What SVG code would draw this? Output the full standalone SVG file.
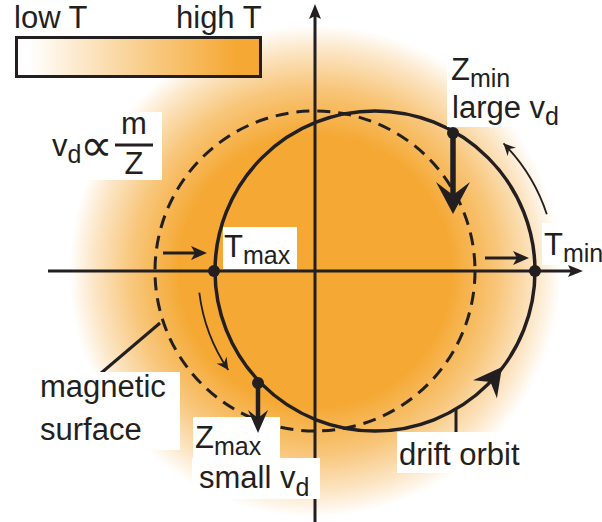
<svg xmlns="http://www.w3.org/2000/svg" width="602" height="522" viewBox="0 0 602 522">
<defs>
<radialGradient id="glow" cx="315" cy="271" r="246" gradientUnits="userSpaceOnUse">
<stop offset="0" stop-color="#F5A833"/>
<stop offset="0.55" stop-color="#F5A833"/>
<stop offset="0.75" stop-color="#F8C77D"/>
<stop offset="0.9" stop-color="#FCE6C6"/>
<stop offset="1" stop-color="#FFFFFF"/>
</radialGradient>
<linearGradient id="bar" x1="0" y1="0" x2="1" y2="0">
<stop offset="0.05" stop-color="#FFFFFF"/>
<stop offset="0.5" stop-color="#F9CF8F"/>
<stop offset="0.9" stop-color="#F5A833"/>
</linearGradient>
<marker id="thin" markerWidth="14" markerHeight="12" refX="12" refY="6" orient="auto" markerUnits="userSpaceOnUse">
<path d="M12,6 L0,0 L4,6 L0,12 Z" fill="#231f20"/>
</marker>
<style>
.t{font-family:"Liberation Sans",Arial,sans-serif;font-size:31px;fill:#231f20}
.s{font-size:25px}
.ln{stroke:#231f20;fill:none}
.bx{fill:#FFFFFF}
.dot{fill:#231f20}
.hd{fill:#231f20}
</style>
</defs>
<rect width="602" height="522" fill="#FFFFFF"/>
<circle cx="315" cy="271" r="246" fill="url(#glow)"/>

<g id="connectors">
<line class="ln" x1="315" y1="522" x2="315" y2="14" stroke-width="3"/>
<path class="hd" d="M315,4 L321,19 L315,16 L309,19 Z"/>
<line class="ln" x1="48" y1="271" x2="572" y2="271" stroke-width="3"/>
<path class="hd" d="M583,271 L568,277 L571,271 L568,265 Z"/>
<circle id="magnetic-surface" class="ln" cx="315" cy="271" r="160" stroke-width="3" stroke-dasharray="13 8"/>
<circle id="drift-orbit" class="ln" cx="375" cy="271" r="160" stroke-width="3.5"/>
<line class="ln" x1="100" y1="374" x2="160" y2="323" stroke-width="3"/>
<line class="ln" x1="456" y1="409" x2="456" y2="434" stroke-width="3"/>
</g>

<g id="label-boxes">
<rect class="bx" x="40" y="112" width="122" height="68"/>
<rect class="bx" x="447" y="50" width="115" height="77"/>
<rect class="bx" x="223" y="227" width="74" height="42"/>
<rect class="bx" x="542" y="223" width="60" height="42"/>
<rect class="bx" x="36" y="372" width="144" height="78"/>
<rect class="bx" x="193" y="417" width="87" height="42"/>
<rect class="bx" x="192" y="458" width="128" height="41"/>
<rect class="bx" x="397" y="432" width="133" height="41"/>
</g>

<g id="arrows">
<path class="ln" d="M199.3,292.6 A177,177 0 0 0 228.3,370" stroke-width="1.8" marker-end="url(#thin)"/>
<path class="ln" d="M546.8,214.2 A181,181 0 0 0 503.5,143.4" stroke-width="1.8" marker-end="url(#thin)"/>
<line class="ln" x1="163" y1="253" x2="197" y2="253" stroke-width="3"/>
<path class="hd" d="M207,253 L191,260 L195,253 L191,246 Z"/>
<line class="ln" x1="485" y1="258" x2="519" y2="258" stroke-width="3"/>
<path class="hd" d="M529,258 L513,265 L517,258 L513,251 Z"/>
<line class="ln" x1="453" y1="133" x2="453" y2="198" stroke-width="5.5"/>
<path class="hd" d="M453,214 L436,182 L453,195 L470,182 Z"/>
<line class="ln" x1="258" y1="383" x2="258" y2="418" stroke-width="4.5"/>
<path class="hd" d="M258,433 L248,410 L258,418 L268,410 Z"/>
<path class="hd" transform="translate(502,367) rotate(-52.6)" d="M0,0 L-28,-15 L-19,0 L-28,15 Z"/>
</g>

<g id="dots">
<circle class="dot" cx="214" cy="271" r="6"/>
<circle class="dot" cx="535" cy="271" r="6"/>
<circle class="dot" cx="453" cy="133" r="6"/>
<circle class="dot" cx="258" cy="383" r="6"/>
</g>

<g id="legend">
<text class="t" x="14" y="28">low T</text>
<text class="t" x="176" y="28">high T</text>
<rect x="16.5" y="37.5" width="244" height="39" fill="url(#bar)" stroke="#231f20" stroke-width="3"/>
</g>

<g id="formula">
<text class="t" x="52" y="156">v<tspan class="s" dy="7">d</tspan></text>
<text x="80" y="161" style="font-family:'DejaVu Sans',sans-serif;font-size:46px;fill:#231f20">∝</text>
<line class="ln" x1="115" y1="145" x2="153" y2="145" stroke-width="3"/>
<text class="t" x="134" y="134" text-anchor="middle">m</text>
<text class="t" x="134" y="174" text-anchor="middle">Z</text>
</g>

<g id="zmin-label">
<text class="t" x="451" y="80">Z<tspan class="s" dy="7">min</tspan></text>
<text class="t" x="452" y="118">large v<tspan class="s" dy="7">d</tspan></text>
</g>

<g id="tmax-label">
<text class="t" x="224" y="257">T<tspan class="s" dy="7">max</tspan></text>
</g>

<g id="tmin-label">
<text class="t" x="544" y="255">T<tspan class="s" dy="7">min</tspan></text>
</g>

<g id="magnetic-surface-label">
<text class="t" x="40" y="397">magnetic</text>
<text class="t" x="40" y="440">surface</text>
</g>

<g id="zmax-label">
<text class="t" x="195" y="448">Z<tspan class="s" dy="7">max</tspan></text>
<text class="t" x="199" y="488">small v<tspan class="s" dy="8">d</tspan></text>
</g>

<g id="drift-orbit-label">
<text class="t" x="399" y="465">drift orbit</text>
</g>
</svg>
